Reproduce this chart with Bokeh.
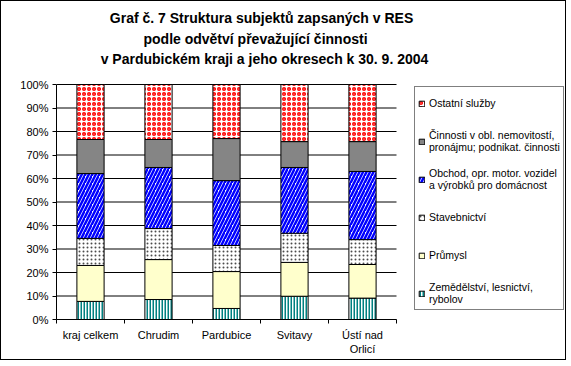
from bokeh.plotting import figure
from bokeh.models import (ColumnDataSource, FixedTicker, LinearAxis, Range1d, Legend,
                          LegendItem, Label, PrintfTickFormatter)
from bokeh.embed import file_html
from bokeh.resources import INLINE

categories = ["kraj celkem", "Chrudim", "Pardubice", "Svitavy", "Ústí nad\nOrlicí"]
series_names = [
    "Zemědělství, lesnictví,\nrybolov",
    "Průmysl",
    "Stavebnictví",
    "Obchod, opr. motor. vozidel\na výrobků pro domácnost",
    "Činnosti v obl. nemovitostí,\npronájmu; podnikat. činnosti",
    "Ostatní služby",
]
zemedelstvi = [7.7, 8.5, 4.7, 9.9, 9.1]
prumysl = [15.3, 17.0, 15.7, 14.4, 14.3]
stavebnictvi = [11.5, 13.2, 11.1, 12.4, 10.6]
obchod = [27.6, 26.0, 27.6, 28.0, 29.0]
cinnosti = [14.5, 11.9, 17.9, 11.0, 12.7]
ostatni = [23.4, 23.4, 23.0, 24.3, 24.3]
y_ticks = [0, 10, 20, 30, 40, 50, 60, 70, 80, 90, 100]
title_lines = [
    "Graf č. 7  Struktura subjektů zapsaných v RES",
    "podle odvětví převažující činnosti",
    "v Pardubickém kraji a jeho okresech k 30. 9. 2004",
]

values = [zemedelstvi, prumysl, stavebnictvi, obchod, cinnosti, ostatni]
xpos = [i + 0.5 for i in range(len(categories))]
n_cat = len(categories)

FONT = "Liberation Sans"

# layout: plot frame spans to the right edge (legend lives inside it) and to the top
PX_PER_CAT = 68.0
PX_PER_PCT = 2.35
FRAME_W = 511
FRAME_H = 318
x_end = FRAME_W / PX_PER_CAT
y_end = FRAME_H / PX_PER_PCT

p = figure(width=566, height=360, x_range=Range1d(0, x_end), y_range=Range1d(0, y_end),
           output_backend="svg", toolbar_location=None, x_axis_type=None,
           min_border_left=55, min_border_right=0, min_border_top=0,
           min_border_bottom=42)
p.styles = {"border": "1px solid black"}
p.outline_line_color = None
p.background_fill_color = "white"
p.border_fill_color = "white"
p.xgrid.grid_line_color = None
p.ygrid.grid_line_color = None

# horizontal gridlines over the category area only
p.segment(x0=[0] * len(y_ticks), y0=y_ticks, x1=[n_cat] * len(y_ticks), y1=y_ticks,
          line_color="black", line_width=1)

styles = [
    dict(fill_color="white", hatch_pattern="vertical_line", hatch_color="#008080",
         hatch_scale=3, hatch_weight=2),
    dict(fill_color="#FFFFCC"),
    dict(fill_color="white", hatch_pattern="dot", hatch_color="black",
         hatch_scale=4, hatch_weight=1, hatch_alpha=0.7),
    dict(fill_color="white", hatch_pattern="right_diagonal_line", hatch_color="#0000FF",
         hatch_scale=7, hatch_weight=2.5),
    dict(fill_color="#858585"),
    dict(fill_color="white", hatch_pattern="ring", hatch_color="#FF0000",
         hatch_scale=5, hatch_weight=1.5),
]

renderers = []
bottom = [0.0] * n_cat
for v, st in zip(values, styles):
    top = [b + val for b, val in zip(bottom, v)]
    src = ColumnDataSource(dict(x=xpos, bottom=bottom, top=top))
    r = p.vbar(x="x", bottom="bottom", top="top", width=0.4, source=src,
               line_color="black", line_width=1, **st)
    renderers.append(r)
    bottom = top

# y axis
p.yaxis.ticker = FixedTicker(ticks=y_ticks, minor_ticks=[])
p.yaxis.bounds = (0, 100)
p.yaxis.formatter = PrintfTickFormatter(format="%d%%")
p.yaxis.major_tick_in = 0
p.yaxis.major_tick_out = 4
p.yaxis.minor_tick_line_color = None
p.yaxis.major_label_text_font = FONT
p.yaxis.major_label_text_font_size = "11px"
p.yaxis.major_label_text_color = "black"
p.yaxis.major_label_standoff = 4
p.yaxis.axis_line_color = "black"
p.yaxis.major_tick_line_color = "black"

# x axis: labels at bar centres, tick marks between categories
xaxis = LinearAxis(ticker=FixedTicker(ticks=xpos, minor_ticks=list(range(n_cat + 1))),
                   major_label_overrides={x: c for x, c in zip(xpos, categories)},
                   bounds=(0, n_cat))
xaxis.major_tick_in = 0
xaxis.major_tick_out = 0
xaxis.minor_tick_in = 0
xaxis.minor_tick_out = 4
xaxis.minor_tick_line_color = "black"
xaxis.axis_line_color = "black"
xaxis.major_label_text_font = FONT
xaxis.major_label_text_font_size = "11px"
xaxis.major_label_text_color = "black"
xaxis.major_label_standoff = 5
p.add_layout(xaxis, "below")

# title lines (positioned in pixels above the plotted area)
title_centers_px = [262, 254, 263]
title_y_px = [16, 37, 57]
for line, cx, cy in zip(title_lines, title_centers_px, title_y_px):
    p.add_layout(Label(x=(cx - 55) / PX_PER_CAT, y=(FRAME_H - cy) / PX_PER_PCT,
                       text=line, text_align="center", text_baseline="middle",
                       text_font=FONT, text_font_size="14px", text_font_style="bold",
                       text_color="black"))

items = [LegendItem(label=name, renderers=[r]) for name, r in zip(series_names, renderers)]
legend = Legend(items=list(reversed(items)), location=(358, 9))
legend.label_text_font = FONT
legend.label_text_font_size = "10.5px"
legend.label_text_color = "black"
legend.glyph_width = 7
legend.glyph_height = 7
legend.label_standoff = 4
legend.label_height = 26
legend.spacing = 12
legend.padding = 3
legend.border_line_color = "black"
legend.border_line_width = 1
legend.background_fill_color = "white"
legend.background_fill_alpha = 1
p.add_layout(legend, "center")

open("out.html", "w").write(file_html(p, INLINE))
